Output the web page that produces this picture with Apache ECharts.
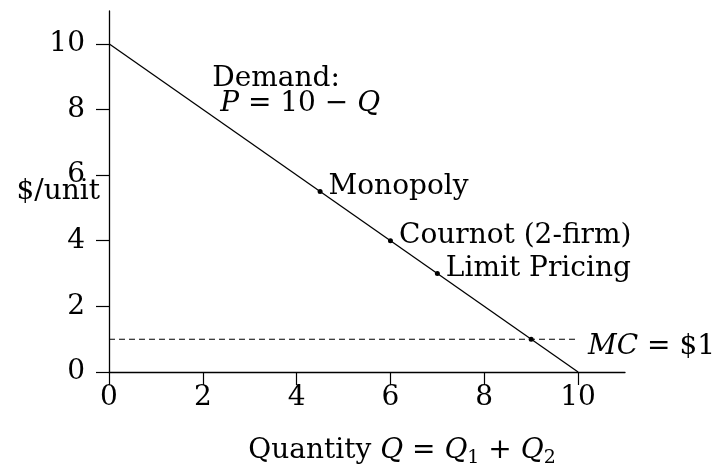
<!DOCTYPE html>
<html>
<head>
<meta charset="utf-8">
<script src="https://cdn.jsdelivr.net/npm/echarts@6/dist/echarts.min.js"></script>
<style>
  html, body { margin: 0; padding: 0; background: #fff; }
  #chart { width: 713px; height: 470px; }
</style>
</head>
<body>
<div id="chart"></div>
<script>
// demand P = 10 - Q, marginal cost $1
const demandLine = [[0, 10], [10, 0]];
const mcLine = [[0, 1], [10, 1]];
const tickValues = [0, 2, 4, 6, 8, 10];

const pointNames = ["Monopoly", "Cournot (2-firm)", "Limit Pricing", ""];
const pointQ = [4.5, 6, 7, 9];
const pointP = [5.5, 4, 3, 1];

const demandLabelAt = [2.2, 8.57];

const FONT = "DejaVu Serif";
const FS = 28;

let myChart = echarts.init(document.getElementById("chart"));

const axisCommon = {
  type: "value",
  min: 0,
  max: 11,
  interval: 2,
  splitLine: { show: false },
  nameMoveOverlap: false,
  axisLine: { lineStyle: { color: "#000", width: 1.3 } },
  axisTick: {
    show: true,
    length: 13,
    customValues: tickValues,
    lineStyle: { color: "#000", width: 1.2 }
  },
  axisLabel: {
    customValues: tickValues,
    color: "#000",
    fontFamily: FONT,
    fontSize: FS
  }
};

let option = {
  animation: false,
  backgroundColor: "#fff",
  grid: { left: 109, top: 11, width: 516, height: 361, containLabel: false, outerBoundsMode: "none" },
  xAxis: {
    ...axisCommon,
    axisLabel: { ...axisCommon.axisLabel, margin: 12 },
    name: "Quantity {i|Q} = {i|Q}{sub|1} + {i|Q}{sub|2}",
    nameLocation: "middle",
    nameGap: 62,
    nameTextStyle: {
      color: "#000",
      fontFamily: FONT,
      fontSize: FS,
      padding: [0, 0, 0, 70],
      rich: {
        i: { fontFamily: FONT, fontSize: FS, fontStyle: "italic", color: "#000", lineHeight: 34 },
        sub: { fontFamily: FONT, fontSize: 19, color: "#000", lineHeight: 16, verticalAlign: "bottom" }
      }
    }
  },
  yAxis: {
    ...axisCommon,
    axisLabel: { ...axisCommon.axisLabel, margin: 24 },
    name: "$/unit",
    nameLocation: "middle",
    nameRotate: 0,
    nameGap: 9,
    nameTextStyle: {
      color: "#000",
      fontFamily: FONT,
      fontSize: FS,
      align: "right",
      padding: [0, 0, 8, 0]
    }
  },
  series: [
    {
      name: "Demand",
      type: "line",
      data: demandLine,
      symbol: "none",
      lineStyle: { color: "#000", width: 1.3 },
      z: 2
    },
    {
      name: "MC",
      type: "line",
      data: mcLine,
      symbol: "none",
      lineStyle: { color: "#000", width: 1.1, type: [6, 4] },
      endLabel: {
        show: true,
        distance: 10,
        offset: [0, 8],
        formatter: "{i|MC} = $1",
        color: "#000",
        fontFamily: FONT,
        fontSize: FS,
        rich: { i: { fontFamily: FONT, fontSize: FS, fontStyle: "italic", color: "#000" } }
      },
      z: 1
    },
    {
      name: "points",
      type: "scatter",
      data: pointQ.map((q, i) => ({ value: [q, pointP[i]], name: pointNames[i] })),
      symbol: "circle",
      symbolSize: 5,
      itemStyle: { color: "#000", opacity: 1 },
      label: {
        show: true,
        position: "right",
        distance: 6,
        offset: [0, -5],
        formatter: p => p.name,
        color: "#000",
        fontFamily: FONT,
        fontSize: FS
      },
      z: 3
    },
    {
      name: "demandLabel",
      type: "scatter",
      data: [demandLabelAt],
      symbolSize: 0,
      silent: true,
      itemStyle: { opacity: 1 },
      label: {
        show: true,
        position: "right",
        distance: 0,
        formatter: "Demand:\n{pad|}{i|P} = 10 − {i|Q}",
        color: "#000",
        fontFamily: FONT,
        fontSize: FS,
        lineHeight: 25,
        rich: {
          pad: { width: 8 },
          i: { fontFamily: FONT, fontSize: FS, fontStyle: "italic", color: "#000", lineHeight: 25 }
        }
      }
    }
  ]
};

option && myChart.setOption(option);
</script>
</body>
</html>
